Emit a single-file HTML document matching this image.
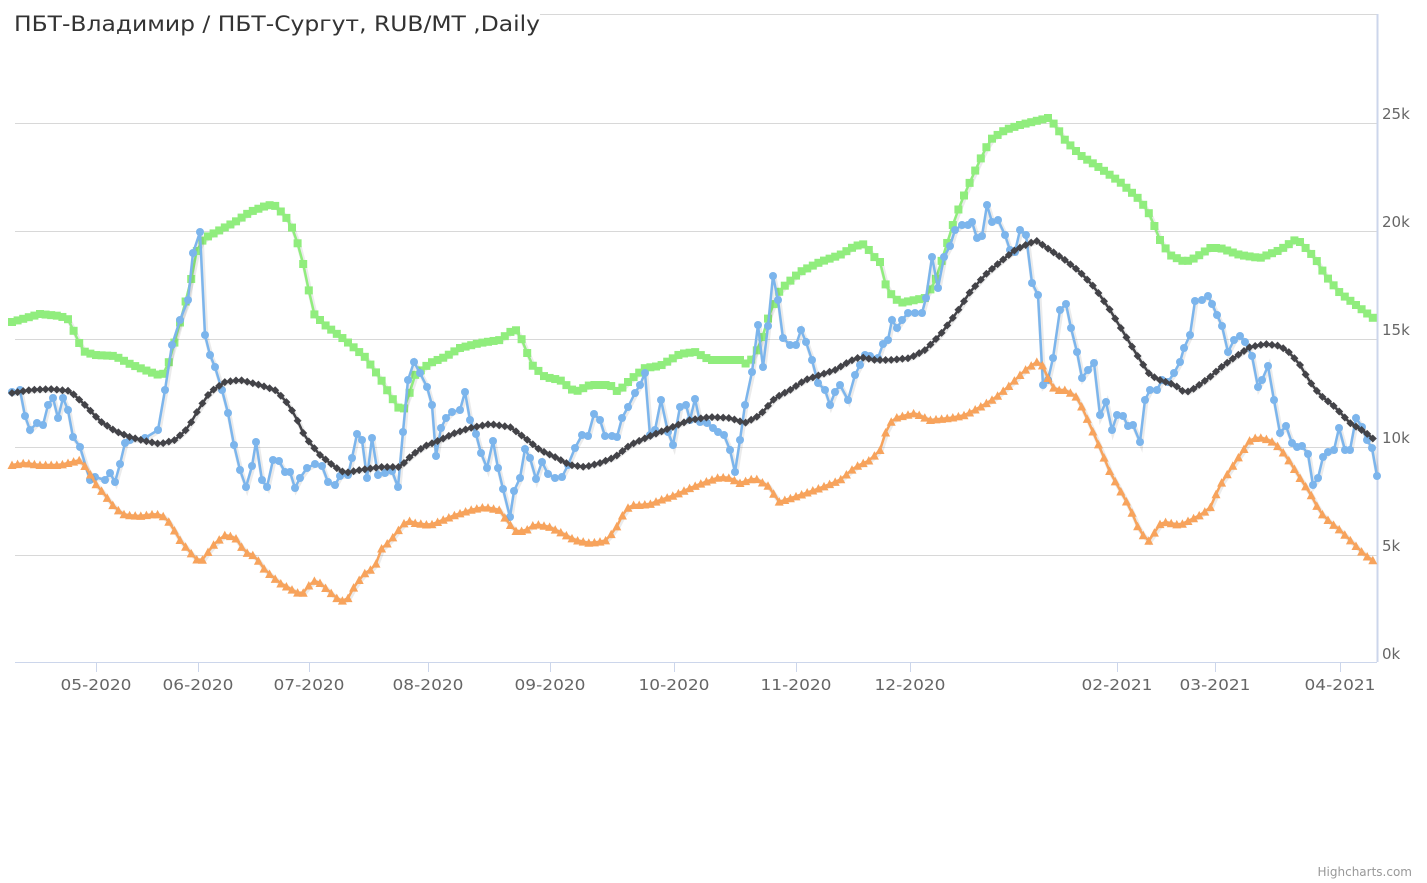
<!DOCTYPE html>
<html><head><meta charset="utf-8"><style>
html,body{margin:0;padding:0;background:#fff;}
svg{display:block;font-family:"DejaVu Sans","Liberation Sans",sans-serif;}
</style></head><body>
<svg id="c" width="1427" height="883" xmlns="http://www.w3.org/2000/svg">
<rect width="1427" height="883" fill="#fff"/>
<g stroke="#d8d8d8" stroke-width="1">
<line x1="15" x2="1377" y1="123.5" y2="123.5"/>
<line x1="15" x2="1377" y1="231.5" y2="231.5"/>
<line x1="15" x2="1377" y1="339.5" y2="339.5"/>
<line x1="15" x2="1377" y1="447.5" y2="447.5"/>
<line x1="15" x2="1377" y1="555.5" y2="555.5"/>
<line x1="540" x2="1377" y1="14.5" y2="14.5"/>
</g>
<line x1="15" x2="1377" y1="662.5" y2="662.5" stroke="#ccd6eb"/>
<line x1="1377.5" x2="1377.5" y1="14" y2="662" stroke="#ccd6eb" stroke-width="2"/>
<g stroke="#ccd6eb"><line x1="96.5" x2="96.5" y1="662" y2="672"/><line x1="198.5" x2="198.5" y1="662" y2="672"/><line x1="309.5" x2="309.5" y1="662" y2="672"/><line x1="428.5" x2="428.5" y1="662" y2="672"/><line x1="550.5" x2="550.5" y1="662" y2="672"/><line x1="674.5" x2="674.5" y1="662" y2="672"/><line x1="796.5" x2="796.5" y1="662" y2="672"/><line x1="910.5" x2="910.5" y1="662" y2="672"/><line x1="1117.5" x2="1117.5" y1="662" y2="672"/><line x1="1215.5" x2="1215.5" y1="662" y2="672"/><line x1="1340.5" x2="1340.5" y1="662" y2="672"/></g>
<g fill="#666" font-size="15.5" text-anchor="middle">
<text x="96" y="690" textLength="71" lengthAdjust="spacingAndGlyphs">05-2020</text><text x="198" y="690" textLength="71" lengthAdjust="spacingAndGlyphs">06-2020</text><text x="309" y="690" textLength="71" lengthAdjust="spacingAndGlyphs">07-2020</text><text x="428" y="690" textLength="71" lengthAdjust="spacingAndGlyphs">08-2020</text><text x="550" y="690" textLength="71" lengthAdjust="spacingAndGlyphs">09-2020</text><text x="674" y="690" textLength="71" lengthAdjust="spacingAndGlyphs">10-2020</text><text x="796" y="690" textLength="71" lengthAdjust="spacingAndGlyphs">11-2020</text><text x="910" y="690" textLength="71" lengthAdjust="spacingAndGlyphs">12-2020</text><text x="1117" y="690" textLength="71" lengthAdjust="spacingAndGlyphs">02-2021</text><text x="1215" y="690" textLength="71" lengthAdjust="spacingAndGlyphs">03-2021</text><text x="1340" y="690" textLength="71" lengthAdjust="spacingAndGlyphs">04-2021</text>
</g>
<g fill="#666" font-size="15">
<text x="1382" y="119">25k</text><text x="1382" y="227">20k</text><text x="1382" y="335">15k</text><text x="1382" y="443">10k</text><text x="1382" y="551">5k</text><text x="1382" y="659">0k</text>
</g>
<text x="14" y="31" font-size="21" fill="#333" textLength="526" lengthAdjust="spacingAndGlyphs">ПБТ-Владимир / ПБТ-Сургут, RUB/MT ,Daily</text>
<text x="1412" y="876" font-size="12" fill="#999" text-anchor="end">Highcharts.com</text>
<g id="series"></g>
</svg>
<script>
var G=[[12,322],[40,314],[60,316],[70,320],[76,338],[85,352],[95,355],[115,356],[130,364],[150,372],[162,376],[168,365],[178,330],[190,285],[198,245],[205,238],[220,230],[235,222],[250,212],[268,205],[276,206],[290,222],[300,250],[308,285],[312,312],[325,325],[345,340],[365,357],[380,378],[390,395],[400,410],[405,408],[415,375],[430,363],[445,357],[460,348],[480,343],[500,340],[510,332],[517,330],[522,340],[532,365],[545,377],[560,380],[575,392],[590,385],[610,385],[618,392],[630,380],[645,368],[660,366],[680,354],[695,352],[710,360],[740,360],[748,365],[760,345],[770,312],[780,290],[800,272],[820,262],[840,255],[855,246],[865,244],[872,255],[880,262],[887,290],[900,303],[925,298],[935,282],[945,250],[955,218],[965,193],[980,160],[990,140],[1005,130],[1020,125],[1040,120],[1048,118],[1055,125],[1065,140],[1080,155],[1100,168],[1120,182],[1140,200],[1150,215],[1160,240],[1170,255],[1185,262],[1195,258],[1210,248],[1220,248],[1240,255],[1260,258],[1280,250],[1295,240],[1300,242],[1315,258],[1325,275],[1340,293],[1360,308],[1377,321]];
var B=[[12,392],[20,390],[25,416],[30,430],[37,423],[43,425],[48,405],[53,398],[58,418],[63,398],[68,410],[73,437],[80,447],[90,480],[95,477],[105,480],[110,473],[115,482],[120,464],[125,443],[130,440],[145,438],[158,430],[165,390],[172,345],[180,320],[188,300],[193,253],[200,232],[205,335],[210,355],[215,367],[222,390],[228,413],[234,445],[240,470],[246,487],[252,466],[256,442],[262,480],[267,487],[273,460],[279,461],[285,472],[290,472],[295,488],[300,478],[307,468],[315,464],[322,466],[328,482],[335,485],[340,476],[348,475],[352,458],[357,434],[362,440],[367,478],[372,438],[378,475],[385,473],[392,471],[398,487],[403,432],[408,380],[414,362],[420,373],[427,387],[432,405],[436,456],[441,428],[446,418],[452,412],[460,410],[465,392],[470,420],[476,434],[481,453],[487,468],[493,441],[498,468],[503,489],[510,517],[514,491],[520,478],[525,449],[530,458],[536,479],[542,462],[548,474],[555,478],[562,477],[568,465],[575,448],[582,435],[588,436],[594,414],[600,420],[605,436],[612,436],[617,437],[622,418],[628,407],[635,393],[640,385],[645,373],[650,435],[655,430],[661,400],[668,432],[673,445],[680,407],[686,405],[690,420],[695,399],[700,422],[707,423],[713,428],[718,432],[724,435],[730,450],[735,472],[740,440],[745,405],[752,372],[758,325],[763,367],[768,326],[773,276],[778,300],[783,338],[790,345],[796,345],[801,330],[806,342],[812,360],[818,383],[825,390],[830,405],[835,392],[840,385],[848,400],[855,375],[860,365],[865,355],[870,356],[878,358],[883,344],[888,340],[892,320],[897,328],[902,320],[908,313],[915,313],[922,313],[926,298],[932,257],[938,288],[944,257],[950,246],[955,230],[962,225],[968,225],[972,222],[977,238],[982,236],[987,205],[992,222],[998,220],[1005,235],[1010,250],[1015,252],[1020,230],[1026,235],[1032,283],[1038,295],[1043,385],[1048,380],[1053,358],[1060,310],[1066,304],[1071,328],[1077,352],[1082,378],[1088,370],[1094,363],[1100,415],[1106,402],[1112,430],[1117,415],[1123,416],[1128,426],[1133,425],[1140,442],[1145,400],[1150,390],[1157,390],[1162,380],[1168,382],[1174,373],[1180,362],[1184,348],[1190,335],[1195,301],[1202,300],[1208,296],[1212,304],[1217,315],[1222,326],[1228,352],[1234,340],[1240,336],[1245,342],[1252,356],[1258,387],[1262,380],[1268,366],[1274,400],[1280,433],[1286,426],[1292,443],[1297,447],[1302,446],[1308,454],[1313,485],[1318,478],[1323,457],[1328,452],[1334,450],[1339,428],[1345,450],[1350,450],[1356,418],[1362,427],[1367,440],[1372,448],[1377,476]];
var O=[[12,465],[25,463],[40,465],[60,465],[72,462],[80,460],[88,470],[95,483],[105,495],[115,508],[125,515],[140,516],[155,514],[162,515],[170,523],[180,540],[190,552],[200,563],[208,552],[215,543],[225,535],[235,537],[245,552],[255,556],[265,570],[280,583],[300,594],[305,592],[312,580],[320,583],[330,592],[340,601],[347,600],[355,585],[365,573],[375,567],[380,550],[390,541],[400,528],[407,520],[415,523],[430,525],[440,521],[455,515],[470,510],[485,507],[500,510],[505,518],[515,531],[525,531],[535,524],[550,527],[560,532],[575,540],[590,543],[605,541],[615,530],[622,516],[630,505],[640,505],[650,504],[660,500],[675,495],[690,488],[705,482],[720,477],[730,478],[740,483],[755,478],[770,487],[778,502],[785,500],[800,495],[820,488],[840,480],[855,467],[870,460],[880,450],[888,425],[895,418],[915,413],[930,420],[950,418],[965,415],[980,407],[995,398],[1010,385],[1025,370],[1035,363],[1040,360],[1048,378],[1055,390],[1065,390],[1075,395],[1080,403],[1090,425],[1100,448],[1110,472],[1120,490],[1130,508],[1140,532],[1150,542],[1158,525],[1165,522],[1180,525],[1190,520],[1200,515],[1210,508],[1220,485],[1230,470],[1240,455],[1250,440],[1258,437],[1270,440],[1280,448],[1290,462],[1300,478],[1310,493],[1320,512],[1330,522],[1340,530],[1350,540],[1365,555],[1377,563]];
var K=[[12,393],[30,390],[50,389],[70,391],[85,405],[100,421],[115,431],[130,437],[145,441],[160,444],[175,440],[188,428],[198,410],[210,392],[225,382],[240,380],[260,385],[275,390],[285,400],[295,415],[305,437],[320,455],[335,467],[345,473],[360,470],[380,467],[400,467],[412,455],[425,446],[440,440],[455,433],[470,428],[490,424],[510,427],[525,438],[540,450],[555,457],[570,465],[585,467],[600,463],[615,457],[630,445],[650,436],[670,428],[690,420],[710,417],[730,418],[745,423],[760,415],[775,398],[790,390],[805,380],[820,375],[835,370],[850,361],[860,357],[875,360],[890,360],[910,358],[925,350],[940,335],[955,315],[970,292],[985,275],[1000,262],[1015,250],[1030,243],[1037,241],[1050,250],[1065,260],[1080,272],[1095,288],[1110,310],[1125,335],[1140,360],[1150,375],[1160,380],[1175,385],[1185,393],[1195,388],[1210,377],[1220,368],[1235,357],[1250,347],[1265,344],[1280,346],[1290,353],[1300,365],[1310,382],[1320,395],[1335,407],[1350,423],[1365,432],[1377,442]];
function interp(P,x){for(var i=1;i<P.length;i++){if(x<=P[i][0]){var a=P[i-1],b=P[i];return a[1]+(b[1]-a[1])*(x-a[0])/(b[0]-a[0]);}}return P[P.length-1][1];}
function resample(P,step){var r=[];for(var x=12;x<=1377.01;x+=step)r.push([x,interp(P,x)]);return r;}
var g=document.getElementById('series'),h='';
function draw(P,col,mk){
 var d='M'+P.map(function(p){return p[0].toFixed(1)+','+p[1].toFixed(1)}).join('L');
 h+='<path d="'+d+'" fill="none" stroke="rgba(0,0,0,0.08)" stroke-width="5" transform="translate(1,1)"/>';
 h+='<path d="'+d+'" fill="none" stroke="'+col+'" stroke-width="2.5" stroke-linejoin="round"/>';
 P.forEach(function(p){var x=p[0],y=p[1];
  if(mk=='c')h+='<circle cx="'+x+'" cy="'+y+'" r="4" fill="'+col+'"/>';
  else if(mk=='s')h+='<rect x="'+(x-4)+'" y="'+(y-4)+'" width="8" height="8" fill="'+col+'"/>';
  else if(mk=='t')h+='<path d="M'+x+','+(y-4.5)+'L'+(x+4.5)+','+(y+4)+'L'+(x-4.5)+','+(y+4)+'Z" fill="'+col+'"/>';
  else h+='<path d="M'+x+','+(y-4)+'L'+(x+4)+','+y+'L'+x+','+(y+4)+'L'+(x-4)+','+y+'Z" fill="'+col+'"/>';
 });
}
draw(resample(G,5.6),'#90ed7d','s');
draw(B,'#7cb5ec','c');
draw(resample(O,5.6),'#f7a35c','t');
draw(resample(K,5.6),'#434348','d');
g.innerHTML=h;
</script>
</body></html>
